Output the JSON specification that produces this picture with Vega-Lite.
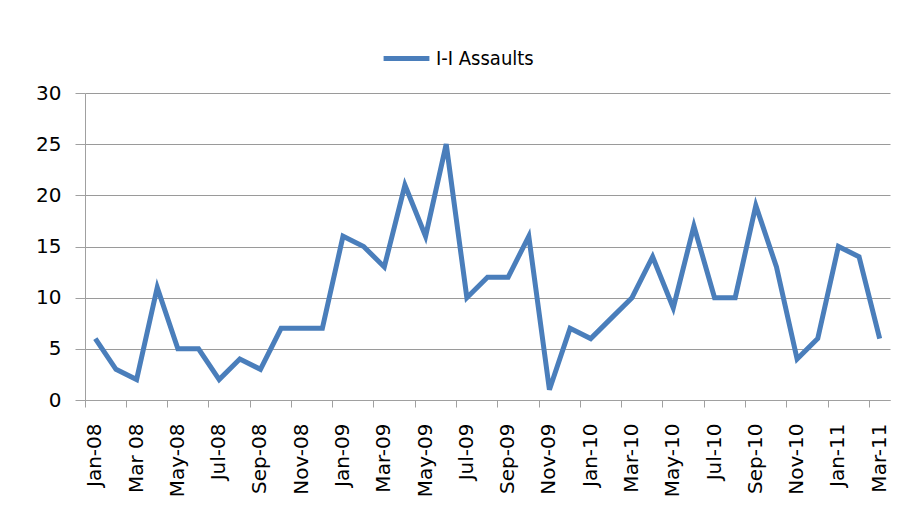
{
  "$schema": "https://vega.github.io/schema/vega-lite/v6.json",
  "width": 805,
  "height": 307,
  "autosize": {"type": "none"},
  "padding": {"left": 85, "top": 93, "right": 13, "bottom": 114},
  "background": "white",
  "config": {"view": {"stroke": null}, "font": "DejaVu Sans"},
  "data": {"values": [
    {"month": "Jan-08", "value": 6, "series": "I-I Assaults"},
    {"month": "Feb-08", "value": 3, "series": "I-I Assaults"},
    {"month": "Mar 08", "value": 2, "series": "I-I Assaults"},
    {"month": "Apr-08", "value": 11, "series": "I-I Assaults"},
    {"month": "May-08", "value": 5, "series": "I-I Assaults"},
    {"month": "Jun-08", "value": 5, "series": "I-I Assaults"},
    {"month": "Jul-08", "value": 2, "series": "I-I Assaults"},
    {"month": "Aug-08", "value": 4, "series": "I-I Assaults"},
    {"month": "Sep-08", "value": 3, "series": "I-I Assaults"},
    {"month": "Oct-08", "value": 7, "series": "I-I Assaults"},
    {"month": "Nov-08", "value": 7, "series": "I-I Assaults"},
    {"month": "Dec-08", "value": 7, "series": "I-I Assaults"},
    {"month": "Jan-09", "value": 16, "series": "I-I Assaults"},
    {"month": "Feb-09", "value": 15, "series": "I-I Assaults"},
    {"month": "Mar-09", "value": 13, "series": "I-I Assaults"},
    {"month": "Apr-09", "value": 21, "series": "I-I Assaults"},
    {"month": "May-09", "value": 16, "series": "I-I Assaults"},
    {"month": "Jun-09", "value": 25, "series": "I-I Assaults"},
    {"month": "Jul-09", "value": 10, "series": "I-I Assaults"},
    {"month": "Aug-09", "value": 12, "series": "I-I Assaults"},
    {"month": "Sep-09", "value": 12, "series": "I-I Assaults"},
    {"month": "Oct-09", "value": 16, "series": "I-I Assaults"},
    {"month": "Nov-09", "value": 1, "series": "I-I Assaults"},
    {"month": "Dec-09", "value": 7, "series": "I-I Assaults"},
    {"month": "Jan-10", "value": 6, "series": "I-I Assaults"},
    {"month": "Feb-10", "value": 8, "series": "I-I Assaults"},
    {"month": "Mar-10", "value": 10, "series": "I-I Assaults"},
    {"month": "Apr-10", "value": 14, "series": "I-I Assaults"},
    {"month": "May-10", "value": 9, "series": "I-I Assaults"},
    {"month": "Jun-10", "value": 17, "series": "I-I Assaults"},
    {"month": "Jul-10", "value": 10, "series": "I-I Assaults"},
    {"month": "Aug-10", "value": 10, "series": "I-I Assaults"},
    {"month": "Sep-10", "value": 19, "series": "I-I Assaults"},
    {"month": "Oct-10", "value": 13, "series": "I-I Assaults"},
    {"month": "Nov-10", "value": 4, "series": "I-I Assaults"},
    {"month": "Dec-10", "value": 6, "series": "I-I Assaults"},
    {"month": "Jan-11", "value": 15, "series": "I-I Assaults"},
    {"month": "Feb-11", "value": 14, "series": "I-I Assaults"},
    {"month": "Mar-11", "value": 6, "series": "I-I Assaults"}
  ]},
  "mark": {"type": "line", "strokeWidth": 5, "strokeJoin": "miter", "strokeCap": "butt"},
  "encoding": {
    "x": {
      "field": "month", "type": "ordinal", "sort": null,
      "scale": {"type": "band", "paddingInner": 0, "paddingOuter": 0},
      "axis": {
        "title": null,
        "values": ["Jan-08","Mar 08","May-08","Jul-08","Sep-08","Nov-08","Jan-09","Mar-09","May-09","Jul-09","Sep-09","Nov-09","Jan-10","Mar-10","May-10","Jul-10","Sep-10","Nov-10","Jan-11","Mar-11"],
        "bandPosition": 0,
        "labelAngle": -90,
        "labelFontSize": 20,
        "labelColor": "#000000",
        "labelFont": "DejaVu Sans",
        "labelPadding": 16,
        "tickSize": 7,
        "tickColor": "#a0a0a0",
        "domainColor": "#a0a0a0",
        "grid": false
      }
    },
    "y": {
      "field": "value", "type": "quantitative",
      "scale": {"domain": [0, 30], "nice": false},
      "axis": {
        "title": null,
        "values": [0, 5, 10, 15, 20, 25, 30],
        "labelFontSize": 20,
        "labelColor": "#000000",
        "labelFont": "DejaVu Sans",
        "labelPadding": 14,
        "tickSize": 10,
        "tickColor": "#a0a0a0",
        "domainColor": "#a0a0a0",
        "gridColor": "#9a9a9a",
        "gridOpacity": 1
      }
    },
    "color": {
      "field": "series", "type": "nominal",
      "scale": {"range": ["#4a7ebb"]},
      "legend": {
        "title": null,
        "orient": "none",
        "legendX": 296,
        "legendY": -60,
        "symbolType": "stroke",
        "symbolStrokeWidth": 5,
        "symbolSize": 2100,
        "labelFont": "DejaVu Sans Condensed, Liberation Sans, sans-serif",
        "labelFontSize": 20,
        "labelColor": "#000000",
        "labelOffset": 4
      }
    }
  }
}
